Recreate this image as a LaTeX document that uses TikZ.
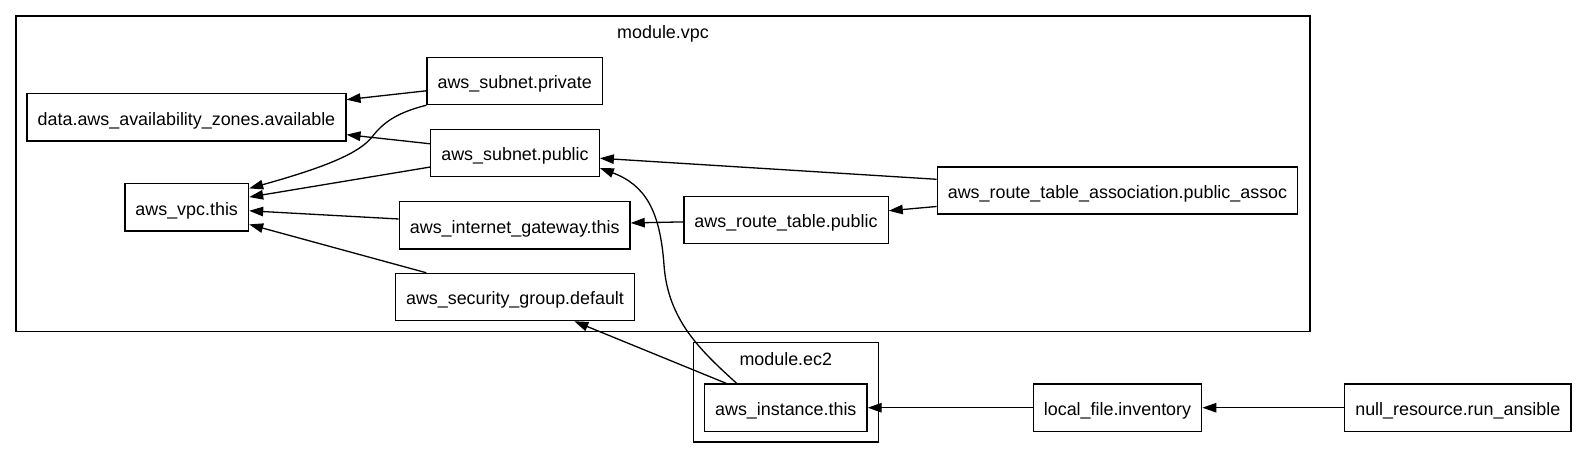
\documentclass[tikz,border=0pt]{standalone}
\usepackage{fontspec}
\setmainfont{Liberation Sans}
\usetikzlibrary{arrows.meta}

\begin{document}
\begin{tikzpicture}[x=1pt,y=-1pt,line width=1.3pt,>={Triangle[length=14pt,width=9.5pt]},
  font=\fontsize{17.9pt}{21pt}\selectfont]

        \useasboundingbox (0,0) rectangle (1580,459);

        \draw (16,16) rectangle (1310,331.7);
        \node[anchor=base] (vpc) at (663,38.3) {module.vpc};
        \draw (693.3,342.3) rectangle (878.3,442);
        \node[anchor=base] (ec2) at (785.8,365) {module.ec2};

        \begin{scope}[every node/.style={rectangle,draw,minimum height=47.2pt,inner xsep=10.6pt,
            text height=19.5pt,text depth=4pt}]
          \node (1)  at (186.5,117.3)  {data.aws\_availability\_zones.available};
          \node (2)  at (514.7,81)     {aws\_subnet.private};
          \node (3)  at (515,153)      {aws\_subnet.public};
          \node (4)  at (186.7,207.4)  {aws\_vpc.this};
          \node (5)  at (514.7,225.3)  {aws\_internet\_gateway.this};
          \node (6)  at (515,297)      {aws\_security\_group.default};
          \node (7)  at (786,219.8)    {aws\_route\_table.public};
          \node (8)  at (1117.5,190.5) {aws\_route\_table\_association.public\_assoc};
          \node (9)  at (785.8,407.7)  {aws\_instance.this};
          \node (10) at (1117.5,407.7) {local\_file.inventory};
          \node (11) at (1457.8,407.7) {null\_resource.run\_ansible};
        \end{scope}

        \begin{scope}[every edge/.style={draw,->}]
          \path (2)  edge (1);
          \path (3)  edge (1);
          \path (3)  edge (4);
          \path (5)  edge (4);
          \path (6)  edge (4);
          \path (7)  edge (5);
          \path (8)  edge (3);
          \path (8)  edge (7);
          \path (9)  edge (6);
          \path (10) edge (9);
          \path (11) edge (10);
          \draw[->] (2.south west) .. controls (395,113) and (382,124) .. (372,137)
            .. controls (360,152) and (330,166) .. ([yshift=19pt]4.east);
          \draw[->] ([xshift=-49pt]9.north) .. controls (700,350) and (668,320) .. (664,265)
            .. controls (660,210) and (645,185) .. ([yshift=-15pt]3.east);
        \end{scope}

      \end{tikzpicture}
\end{document}
